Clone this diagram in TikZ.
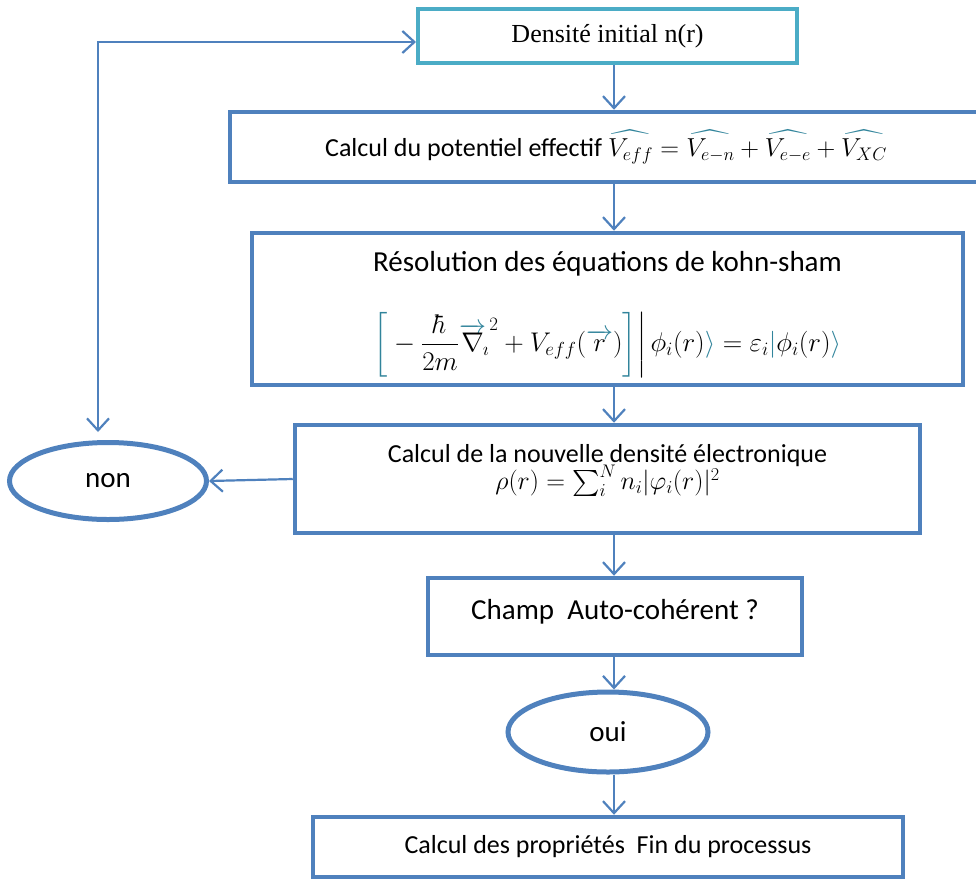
\RequirePackage{fix-cm}
\documentclass[tikz,border=0pt]{standalone}
\usepackage{amsmath,amssymb}
\usepackage{fontspec}
\setmainfont{Carlito}
\newfontfamily\timesfont{Liberation Serif}
\usetikzlibrary{arrows.meta,shapes.geometric}
\definecolor{boxblue}{HTML}{4F81BD}
\definecolor{boxcyan}{HTML}{4BACC6}
\definecolor{mteal}{HTML}{31849B}
\newcommand{\tl}[1]{{\color{mteal}#1}}
\newcommand{\hatt}[1]{{\color{mteal}\widehat{\color{black}#1}}}
\newcommand{\vecr}[1]{{\color{mteal}\overrightarrow{\color{black}#1}}}

\tikzset{
  vtip/.tip={Straight Barb[length=12pt,width=22pt]},
  box/.style={draw=boxblue, line width=4.5pt, rectangle, align=center, inner sep=0pt,
    font=\fontsize{26}{32}\selectfont},
  oval/.style={draw=boxblue, line width=5pt, ellipse, inner sep=0pt,
    font=\fontsize{29}{34}\selectfont},
  link/.style={draw=boxblue, line width=2.2pt, -vtip},
}

\begin{document}
\begin{tikzpicture}[x=1pt, y=-1pt]
  \useasboundingbox (0,0) rectangle (976,879);
  \clip (0,0) rectangle (976,879);

  \node[box, draw=boxcyan, line width=4pt, minimum width=379pt, minimum height=54pt,
        font=\timesfont\fontsize{26}{30}\selectfont] (dens) at (607.5,36) {Densité initial n(r)};
  \node[box, minimum width=752pt, minimum height=70pt] (pot) at (606,147)
    {Calcul du potentiel effectif $\hatt{V_{eff}}=\hatt{V_{e-n}}+\hatt{V_{e-e}}+\hatt{V_{XC}}$};
  \node[box, minimum width=711pt, minimum height=152pt] (ks) at (607.5,309)
    {{\fontsize{29}{34}\selectfont Résolution des équations de kohn-sham}\\[48pt]
     {\fontsize{27}{32}\selectfont \smash{$\tl{\biggl[}-\dfrac{\hbar}{2m}{\vecr{\nabla}_{\!\imath}}^{2}+V_{eff}(\vecr{r})\tl{\biggr]}\bigg|\,\phi_i(r)\tl{\rangle}=\varepsilon_i\tl{|}\phi_i(r)\tl{\rangle}$}\rule[-15pt]{0pt}{15pt}}};
  \node[box, minimum width=625pt, minimum height=108pt] (newd) at (607.5,479)
    {Calcul de la nouvelle densité électronique\\[-5pt] $\rho(r)=\sum_i^N n_i|\varphi_i(r)|^2$\\[-8pt]\mbox{}};
  \node[box, minimum width=374pt, minimum height=77pt, text depth=15pt,
        font=\fontsize{29}{34}\selectfont] (scf) at (615,616.5)
    {Champ\ \ Auto-cohérent ?};
  \node[oval, minimum width=200pt, minimum height=80pt] (oui) at (608,732) {oui};
  \node[box, minimum width=590pt, minimum height=60pt] (prop) at (608,847)
    {Calcul des propriétés\ \ Fin du processus};
  \node[oval, minimum width=197pt, minimum height=77pt] (non) at (108,481) {non};

  \coordinate (ax) at (614,0);
  \coordinate (lp) at (98,432);
  \draw[link] (dens.south -| ax) -- (pot.north -| ax);
  \draw[link] (pot.south -| ax) -- (ks.north -| ax);
  \draw[link] (ks.south -| ax) -- (newd.north -| ax);
  \draw[link] (newd.south -| ax) -- (scf.north -| ax);
  \draw[link] (scf.south -| ax) -- (oui.north -| ax);
  \draw[link] (oui.south -| ax) -- (prop.north -| ax);
  \draw[link] (newd.west) -- (non.east);
  \draw[link, vtip-vtip] (lp) |- ([yshift=-6pt]dens.west);
\end{tikzpicture}
\end{document}
